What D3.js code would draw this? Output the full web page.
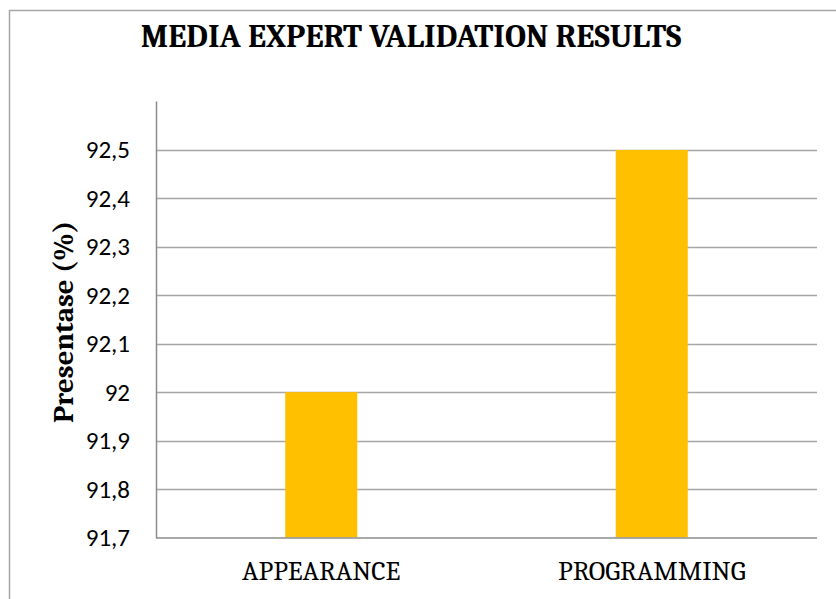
<!DOCTYPE html>
<html><head><meta charset="utf-8">
<script src="https://cdn.jsdelivr.net/npm/d3@7"></script>
<style>body{margin:0;background:#fff}svg{display:block}</style>
</head><body>
<script>
const categories = ["APPEARANCE", "PROGRAMMING"];
const values = [92.0, 92.5];
const tickValues = [91.7, 91.8, 91.9, 92.0, 92.1, 92.2, 92.3, 92.4, 92.5];
const tickLabels = ["91,7", "91,8", "91,9", "92", "92,1", "92,2", "92,3", "92,4", "92,5"];
const title = "MEDIA EXPERT VALIDATION RESULTS";
const yTitle = "Presentase (%)";

const W = 836, H = 599;
const svg = d3.select("body").append("svg").attr("width", W).attr("height", H);

svg.append("rect").attr("x", 9.5).attr("y", 10.5).attr("width", W + 10).attr("height", H + 10)
  .attr("fill", "none").attr("stroke", "#a6a6a6").attr("stroke-width", 1.5);

const m = {left: 156, right: 817, top: 101.5, bottom: 537.5};
const x = d3.scaleBand().domain(categories).range([m.left, m.right]).paddingInner(0.782).paddingOuter(0.391);
const y = d3.scaleLinear().domain([91.7, 92.6]).range([m.bottom, m.top]);

// gridlines
svg.append("g").selectAll("line").data(tickValues.slice(1)).join("line")
  .attr("x1", m.left).attr("x2", m.right)
  .attr("y1", d => Math.round(y(d)) + 0.5).attr("y2", d => Math.round(y(d)) + 0.5)
  .attr("stroke", "#a6a6a6").attr("stroke-width", 1.5);

// bars
svg.append("g").selectAll("rect").data(values).join("rect")
  .attr("x", (d, i) => x(categories[i]))
  .attr("width", x.bandwidth())
  .attr("y", d => y(d))
  .attr("height", d => y(91.7) - y(d))
  .attr("fill", "#FFC000");

// y axis
const yAxis = d3.axisLeft(y).tickValues(tickValues).tickFormat((d, i) => tickLabels[i]).tickSize(0).tickPadding(26);
const ga = svg.append("g").attr("transform", `translate(${m.left},0)`).call(yAxis);
ga.select(".domain").remove();
ga.selectAll("text").attr("font-family", "Carlito, Lato, 'Open Sans', sans-serif").attr("font-size", 25).attr("fill", "#000");

svg.append("line").attr("x1", m.left + 0.5).attr("x2", m.left + 0.5).attr("y1", m.top).attr("y2", m.bottom + 0.5)
  .attr("stroke", "#8c8c8c").attr("stroke-width", 1.5);
svg.append("line").attr("x1", m.left).attr("x2", m.right).attr("y1", m.bottom + 0.5).attr("y2", m.bottom + 0.5)
  .attr("stroke", "#8c8c8c").attr("stroke-width", 1.5);

// x axis labels
const xAxis = d3.axisBottom(x).tickSize(0);
const gx = svg.append("g").attr("transform", `translate(0,${m.bottom})`).call(xAxis);
gx.select(".domain").remove();
gx.selectAll("text").attr("y", 42.5).attr("dy", 0)
  .attr("font-family", "Caladea, 'Liberation Serif', 'DejaVu Serif', serif").attr("font-size", 27.5).attr("fill", "#000");

// title
svg.append("text").attr("x", 411).attr("y", 47).attr("text-anchor", "middle")
  .attr("font-family", "Caladea, 'Liberation Serif', serif").attr("font-weight", "bold").attr("font-size", 32.5)
  .text(title);

// y title
svg.append("text").attr("transform", "translate(73,322) rotate(-90)").attr("text-anchor", "middle")
  .attr("font-family", "Caladea, 'Liberation Serif', serif").attr("font-weight", "bold").attr("font-size", 29)
  .text(yTitle);
</script>
</body></html>
